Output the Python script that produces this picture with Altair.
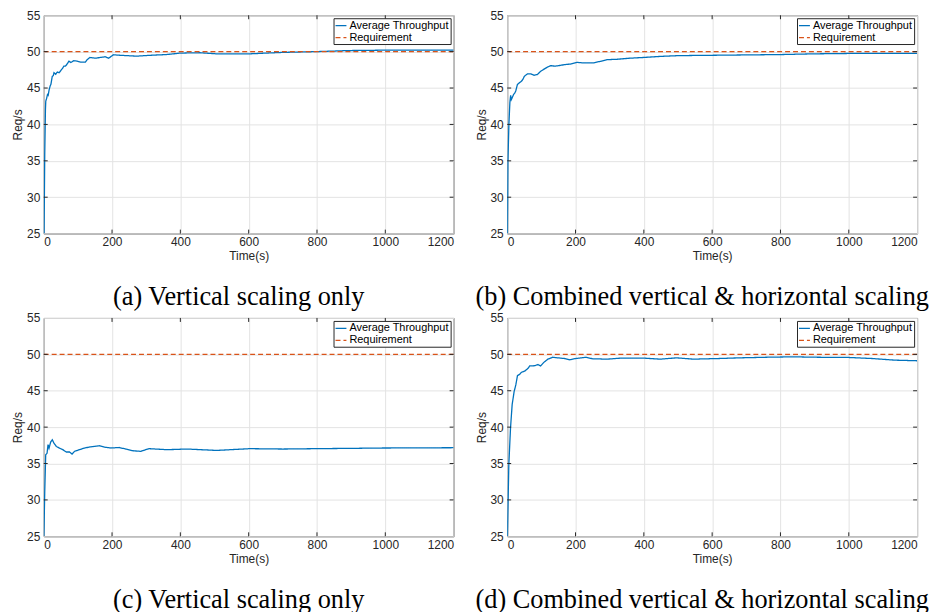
import altair as alt
import pandas as pd

X_TICKS = [0, 200, 400, 600, 800, 1000, 1200]
Y_TICKS = [25, 30, 35, 40, 45, 50, 55]
SERIES = ["Average Throughput", "Requirement"]
COLORS = ["#0072BD", "#D95319"]
REQ = 50

A_T = [1, 3, 5, 6, 8, 11, 13, 16, 19, 21, 25, 28, 30, 35, 40, 45, 50, 55, 59, 63, 67, 74, 79, 88, 98, 108, 122, 127, 135, 151, 166, 180, 190, 204, 224, 272, 313, 359, 400, 458, 506, 603, 700, 797, 894, 991, 1200]
A_V = [25, 36, 42, 43.2, 43.5, 44.1, 44.0, 44.8, 45.3, 45.5, 46.6, 46.7, 47.1, 46.9, 47.2, 47.1, 47.4, 47.7, 48.0, 48.0, 48.2, 48.7, 48.5, 48.76, 48.7, 48.57, 48.57, 48.9, 49.2, 49.1, 49.2, 49.3, 49.1, 49.57, 49.5, 49.38, 49.5, 49.6, 49.8, 49.85, 49.7, 49.7, 49.9, 50.0, 50.15, 50.2, 50.2]

B_T = [0.5, 2, 5, 7.8, 10, 12, 14, 18.5, 22, 25, 30, 35, 42, 46, 50, 55, 59, 69, 79, 88, 98, 108, 117, 127, 140, 151, 166, 185, 204, 224, 253, 272, 292, 321, 359, 400, 450, 500, 554, 600, 700, 800, 900, 1000, 1100, 1200]
B_V = [25, 34.7, 40.1, 43.0, 44.0, 43.4, 43.6, 44.1, 44.3, 44.6, 45.5, 45.7, 45.95, 46.2, 46.6, 46.8, 46.94, 46.94, 46.76, 46.85, 47.3, 47.6, 47.85, 48.08, 48.0, 48.08, 48.2, 48.3, 48.53, 48.45, 48.45, 48.66, 48.9, 48.95, 49.1, 49.2, 49.35, 49.45, 49.48, 49.5, 49.55, 49.6, 49.7, 49.75, 49.75, 49.75]

C_T = [0.5, 3, 5.8, 9.7, 12.6, 15.5, 20.3, 25, 30, 36.8, 46.5, 56, 66, 75.5, 83, 90, 104.6, 119, 138.5, 162.7, 177, 196.6, 220.8, 240, 259.6, 283.8, 308, 361, 419, 506.5, 603, 700, 797, 894, 991, 1200]
C_V = [25, 31.2, 36.2, 36.4, 37.6, 37.1, 37.94, 38.26, 37.8, 37.35, 37.1, 36.9, 36.58, 36.58, 36.3, 36.67, 36.9, 37.13, 37.3, 37.44, 37.26, 37.13, 37.2, 36.99, 36.76, 36.67, 37.04, 36.9, 36.99, 36.8, 37.04, 36.99, 37.04, 37.08, 37.13, 37.17]

D_T = [0.5, 4.8, 9.7, 14.5, 20.3, 25.2, 30, 36.8, 41.6, 51.3, 61, 65.8, 80.3, 90, 97.7, 107.4, 119, 133.5, 148, 167, 182, 201, 230, 250, 293, 332, 400, 448, 496, 545, 622, 680, 758, 835, 912, 1000, 1067, 1135, 1200]
D_V = [25, 34.95, 39.9, 43.1, 44.9, 45.8, 47.08, 47.26, 47.53, 47.7, 48.08, 48.4, 48.44, 48.6, 48.4, 48.9, 49.34, 49.6, 49.52, 49.43, 49.25, 49.43, 49.6, 49.39, 49.34, 49.48, 49.48, 49.34, 49.52, 49.34, 49.43, 49.52, 49.6, 49.66, 49.6, 49.57, 49.43, 49.2, 49.12]

CAPTIONS = ["(a) Vertical scaling only", "(b) Combined vertical & horizontal scaling",
            "(c) Vertical scaling only", "(d) Combined vertical & horizontal scaling"]

W, H = 413, 220
TICK = 4
DARK = "#262626"


def panel(t, v, caption, dx):
    df = pd.DataFrame({
        "t": list(t) + [X_TICKS[0], X_TICKS[-1]],
        "v": list(v) + [REQ, REQ],
        "series": [SERIES[0]] * len(t) + [SERIES[1]] * 2,
    })
    leg = alt.Legend(title=None, orient="top-right", offset=3)
    xs = alt.Scale(domain=[X_TICKS[0], X_TICKS[-1]], nice=False, zero=False)
    ys = alt.Scale(domain=[Y_TICKS[0], Y_TICKS[-1]], nice=False, zero=False)
    xax = alt.Axis(values=X_TICKS, title="Time(s)", format="d")
    yax = alt.Axis(values=Y_TICKS, title="Req/s", format="d")
    line = alt.Chart(df).mark_line(clip=True, strokeWidth=1.3).encode(
        x=alt.X("t:Q", scale=xs, axis=xax),
        y=alt.Y("v:Q", scale=ys, axis=yax),
        color=alt.Color("series:N", scale=alt.Scale(domain=SERIES, range=COLORS), legend=leg),
        strokeDash=alt.StrokeDash("series:N", scale=alt.Scale(domain=SERIES, range=[[1, 0], [5, 3]]), legend=leg),
    )
    xt = pd.DataFrame({"t": X_TICKS[1:-1]})
    yt = pd.DataFrame({"v": Y_TICKS[1:-1]})
    bottom = alt.Chart(xt).mark_rule(color=DARK).encode(
        x=alt.X("t:Q", axis=xax), y=alt.value(H), y2=alt.value(H - TICK))
    top = alt.Chart(xt).mark_rule(color=DARK).encode(
        x=alt.X("t:Q", axis=xax), y=alt.value(0), y2=alt.value(TICK))
    left = alt.Chart(yt).mark_rule(color=DARK).encode(
        y=alt.Y("v:Q", axis=yax), x=alt.value(0), x2=alt.value(TICK))
    right = alt.Chart(yt).mark_rule(color=DARK).encode(
        y=alt.Y("v:Q", axis=yax), x=alt.value(W), x2=alt.value(W - TICK))
    return alt.layer(line, bottom, top, left, right).properties(
        width=W, height=H,
        title=alt.TitleParams(text=caption, orient="bottom", font="Liberation Serif",
                              fontSize=26.5, fontWeight="normal", color="black",
                              offset=23, dx=dx, anchor="middle"),
    )


pa = panel(A_T, A_V, CAPTIONS[0], -10)
pb = panel(B_T, B_V, CAPTIONS[1], -10)
pc = panel(C_T, C_V, CAPTIONS[2], -10)
pd_ = panel(D_T, D_V, CAPTIONS[3], -10)

chart = alt.concat(pa, pb, pc, pd_, columns=2, spacing={"row": 85, "column": 54},
                   bounds="flush").resolve_scale(
    color="independent", strokeDash="independent").resolve_legend(
    color="independent", strokeDash="independent").properties(
    padding={"left": 3, "top": -2, "right": 0, "bottom": 0},
    background="white",
).configure_view(stroke=DARK, strokeWidth=1).configure_axis(
    labelFont="Liberation Sans", labelFontSize=12, labelColor=DARK,
    titleFont="Liberation Sans", titleFontSize=12, titleColor=DARK, titleFontWeight="normal",
    gridColor="#e3e3e3", gridWidth=1, domain=False, ticks=False,
    labelPadding=4, titlePadding=2,
).configure_axisX(labelPadding=3, titlePadding=3).configure_legend(
    fillColor="white", strokeColor=DARK, strokeWidth=1, padding=1, cornerRadius=0,
    labelFont="Liberation Sans", labelFontSize=11, labelColor="black",
    symbolType="stroke", symbolSize=121, symbolStrokeWidth=1.2, rowPadding=0,
    labelOffset=2, titlePadding=0,
)

chart.save("out.html", embed_options={"renderer": "svg", "actions": False})
